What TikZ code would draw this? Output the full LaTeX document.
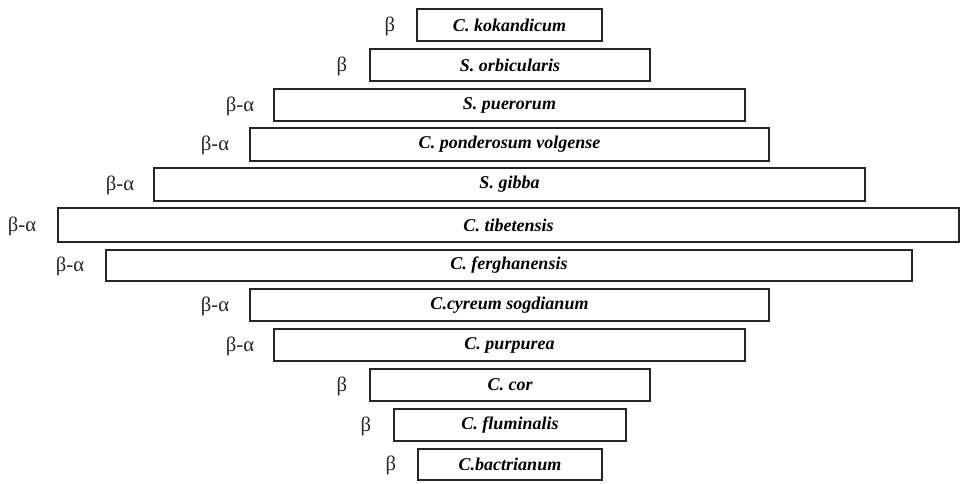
\documentclass[tikz,border=0pt]{standalone}
\usepackage{fontspec}
\setmainfont{Liberation Serif}
\begin{document}
\begin{tikzpicture}[x=0.75pt,y=-0.75pt,
  bar/.style={draw=black!85,line width=1.5pt,fill=white,inner sep=0pt,
    font=\fontsize{13.5pt}{14pt}\selectfont\bfseries\itshape},
  tag/.style={font=\fontsize{15.5pt}{16pt}\selectfont,text=black!85,inner sep=0pt}]
\useasboundingbox (0,0) rectangle (961,483);
\foreach \n/\xa/\xb/\ya/\yb/\lx/\lab/\txt in {
  r1/417/602/9/41/390/β/{C. kokandicum},
  r2/370/650/49/81/342/β/{S. orbicularis},
  r3/274/745/89/121/240/β-α/{S. puerorum},
  r4/250/769/128/161/215/β-α/{C. ponderosum volgense},
  r5/154/865/168/201/120/β-α/{S. gibba},
  r6/58/959/208/242/22/β-α/{C. tibetensis},
  r7/106/912/250/281/70/β-α/{C. ferghanensis},
  r8/250/769/289/321/215/β-α/{C.cyreum sogdianum},
  r9/274/745/329/361/240/β-α/{C. purpurea},
  r10/370/650/369/401/342/β/{C. cor},
  r11/394/626/409/441/366/β/{C. fluminalis},
  r12/418/602/449/480/391/β/{C.bactrianum}}{
  \node[bar,minimum width={(\xb-\xa)*0.75pt},minimum height={(\yb-\ya)*0.75pt}]
    (\n) at ({(\xa+\xb)/2},{(\ya+\yb)/2}) {\txt};
  \node[tag] (\n l) at (\lx,{(\ya+\yb)/2+1}) {\lab};
}
\end{tikzpicture}
\end{document}
